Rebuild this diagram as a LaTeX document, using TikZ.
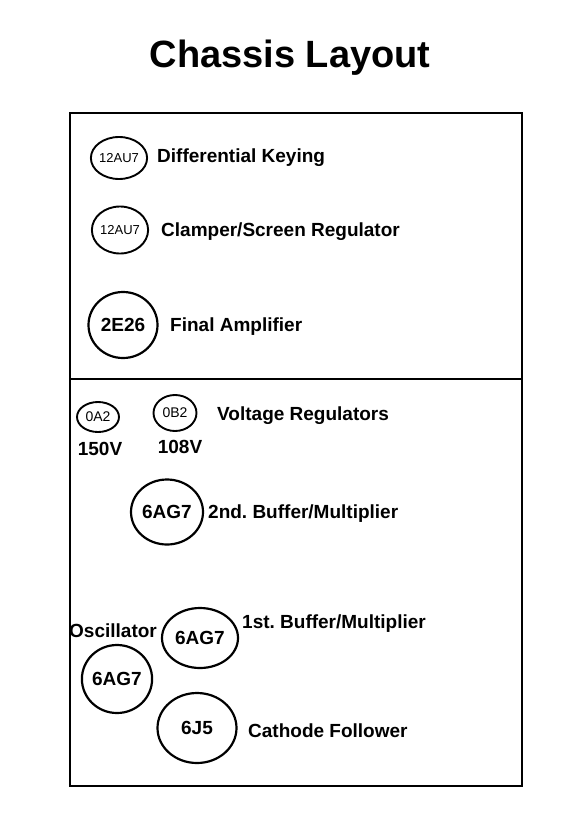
\documentclass[tikz,border=0pt]{standalone}
\usepackage{fontspec}
\setmainfont{Liberation Sans}
\usetikzlibrary{shapes.geometric,positioning}
\frenchspacing

\begin{document}
\begin{tikzpicture}[x=1bp, y=-1bp,
    tube/.style={draw, ellipse, line width=2.2pt, inner sep=0pt, font=\fontsize{19bp}{21bp}\selectfont\bfseries},
    smalltube/.style={tube, line width=1.9pt, font=\fontsize{13bp}{15bp}\selectfont},
    lbl/.style={anchor=base west, inner sep=0pt, font=\fontsize{19bp}{21bp}\selectfont\bfseries},
    volt/.style={lbl, anchor=base}]
    \useasboundingbox (0,0) rectangle (587,840);
    % title
    \node[anchor=base, inner sep=0pt, font=\fontsize{38bp}{40bp}\selectfont\bfseries] (title) at (290,67) {Chassis Layout};
    % chassis outline and divider
    \coordinate (TL) at (70,113);
    \coordinate (BR) at (522,786);
    \coordinate (DL) at (70,379);
    \coordinate (DR) at (522,379);
    \draw[line width=1.7pt] (TL) rectangle (BR);
    \draw[line width=1.7pt] (DL) -- (DR);
    % upper section
    \node[smalltube, minimum width=46bp, minimum height=42bp] (keyer) at (119,158) {12AU7};
    \node[smalltube, minimum width=46bp, minimum height=47bp] (clamper) at (120,230) {12AU7};
    \node[tube, minimum width=69bp, minimum height=66bp] (final) at (123,325) {2E26};
    \node[lbl] (keyertxt) at (157,162) {Differential Keying};
    \node[lbl] (clampertxt) at (161,236) {Clamper/Screen Regulator};
    \node[lbl] (finaltxt) at (170,331) {Final Amplifier};
    % lower section
    \node[smalltube, minimum width=42bp, minimum height=30bp, font=\fontsize{14bp}{16bp}\selectfont] (vra) at (98,417) {0A2};
    \node[smalltube, minimum width=43bp, minimum height=36bp, font=\fontsize{14bp}{16bp}\selectfont] (vrb) at (175,413) {0B2};
    \node[volt] (vratxt) at (100,455) {150V};
    \node[volt] (vrbtxt) at (180,453) {108V};
    \node[lbl] (vrtxt) at (217,420) {Voltage Regulators};
    \node[tube, minimum width=72bp, minimum height=65bp] (buftwo) at (167,512) {6AG7};
    \node[lbl] (buftwotxt) at (208,518) {2nd. Buffer/Multiplier};
    \node[tube, minimum width=76bp, minimum height=60bp] (bufone) at (200,638) {6AG7};
    \node[lbl] (bufonetxt) at (242,628) {1st. Buffer/Multiplier};
    \node[tube, minimum width=68bp, minimum height=68bp] (osc) at (117,679) {6AG7};
    \node[lbl] (osctxt) at (69,637) {Oscillator};
    \node[tube, minimum width=79bp, minimum height=70bp] (cf) at (197,728) {6J5};
    \node[lbl] (cftxt) at (248,737) {Cathode Follower};
\end{tikzpicture}
\end{document}
